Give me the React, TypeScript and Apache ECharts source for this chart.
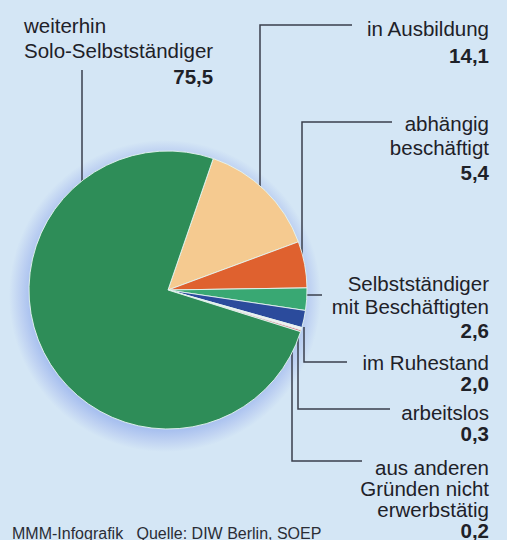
import React, { useEffect, useRef } from "react";
import * as echarts from "echarts";

const categories = [
  "in Ausbildung",
  "abhängig beschäftigt",
  "Selbstständiger mit Beschäftigten",
  "im Ruhestand",
  "arbeitslos",
  "aus anderen Gründen nicht erwerbstätig",
  "weiterhin Solo-Selbstständiger",
];
const labelLines = [
  ["in Ausbildung"],
  ["abhängig", "beschäftigt"],
  ["Selbstständiger", "mit Beschäftigten"],
  ["im Ruhestand"],
  ["arbeitslos"],
  ["aus anderen", "Gründen nicht", "erwerbstätig"],
  ["weiterhin", "Solo-Selbstständiger"],
];
const values = [14.1, 5.4, 2.6, 2.0, 0.3, 0.2, 75.5];
const valueLabels = ["14,1", "5,4", "2,6", "2,0", "0,3", "0,2", "75,5"];
const colors = ["#f5ca90", "#df612f", "#39a873", "#2b4b9c", "#f2eef0", "#d9687c", "#2e8d58"];

// label placement (x = anchor edge, c = centre of first line, lh = line height) and leader line points
const labelPos: { x: number; c: number; lh: number; align: string; pts: number[][] }[] = [
  { x: 489, c: 28, lh: 27, align: "right", pts: [[260, 198], [260, 25], [352, 25]] },
  { x: 489, c: 123, lh: 24.5, align: "right", pts: [[302, 258], [302, 122], [392, 122]] },
  { x: 489, c: 283, lh: 23.5, align: "right", pts: [[304, 295], [312, 295], [322, 295]] },
  { x: 489, c: 362, lh: 21, align: "right", pts: [[304, 327], [304, 362], [347, 362]] },
  { x: 489, c: 412, lh: 21, align: "right", pts: [[298, 334], [298, 409], [390, 409]] },
  { x: 489, c: 467, lh: 21, align: "right", pts: [[292, 340], [292, 461], [362, 461]] },
  { x: 24, c: 25, lh: 25.5, align: "left", pts: [[82, 182], [82, 70], [82, 70]] },
];

const font = "'Liberation Sans', Arial, Helvetica, sans-serif";
const richFor = (lh: number) => ({
  n: { fontSize: 20.5, lineHeight: lh, color: "#1e2128", fontFamily: font },
  v: {
    fontSize: 20.5,
    lineHeight: lh,
    fontWeight: "bold",
    color: "#1e2128",
    fontFamily: font,
    align: "right",
  },
});

export default function App() {
  const ref = useRef<HTMLDivElement>(null);
  useEffect(() => {
    if (!ref.current) return;
    const chart = echarts.init(ref.current, undefined, { renderer: "svg" });
    chart.setOption({
      animation: false,
      backgroundColor: "#d4e6f5",
      graphic: [
        {
          type: "text",
          left: 12,
          top: 525,
          style: {
            text: "MMM-Infografik   Quelle: DIW Berlin, SOEP",
            fontSize: 16,
            fontFamily: font,
            fill: "#2a2d35",
          },
        },
      ],
      series: [
        {
          // soft blue halo behind the pie
          type: "pie",
          name: "halo",
          silent: true,
          z: 1,
          center: [165, 296],
          radius: [0, 156],
          label: { show: false },
          labelLine: { show: false },
          emphasis: { disabled: true },
          itemStyle: {
            color: new echarts.graphic.RadialGradient(0.5, 0.5, 0.5, [
              { offset: 0, color: "#a6bfef" },
              { offset: 0.86, color: "#a8c0ef" },
              { offset: 0.93, color: "#bfd2f2" },
              { offset: 1, color: "#d4e6f5" },
            ]),
          },
          data: [{ value: 1, name: "halo" }],
        },
        {
          type: "pie",
          name: "main",
          z: 3,
          center: [168, 290],
          radius: [0, 139],
          startAngle: 71,
          clockwise: true,
          avoidLabelOverlap: false,
          itemStyle: {
            borderColor: "rgba(230,245,240,0.9)",
            borderWidth: 1,
          },
          emphasis: { disabled: true },
          label: {
            show: true,
            position: "outside",
            fontFamily: font,
            formatter: (p: any) => {
              const lines = labelLines[p.dataIndex].map((l) => "{n|" + l + "}");
              return lines.join("\n") + "\n{v|" + valueLabels[p.dataIndex] + "}";
            },
            rich: richFor(23),
          },
          labelLine: {
            show: true,
            smooth: false,
            lineStyle: { color: "#3a3f4c", width: 1.5 },
          },
          labelLayout: (params: any) => {
            if (params.seriesIndex !== 1) return {};
            const lp = labelPos[params.dataIndex];
            return {
              x: lp.x,
              y: lp.c - lp.lh / 2,
              align: lp.align,
              verticalAlign: "top",
              labelLinePoints: lp.pts,
            };
          },
          data: values.map((v, i) => ({
            name: categories[i],
            value: v,
            itemStyle: { color: colors[i] },
            label: { rich: richFor(labelPos[i].lh) },
          })),
        },
      ],
    });
    return () => chart.dispose();
  }, []);
  return (
    <div
      ref={ref}
      style={{ position: "fixed", left: 0, top: 0, width: 507, height: 540 }}
    />
  );
}
